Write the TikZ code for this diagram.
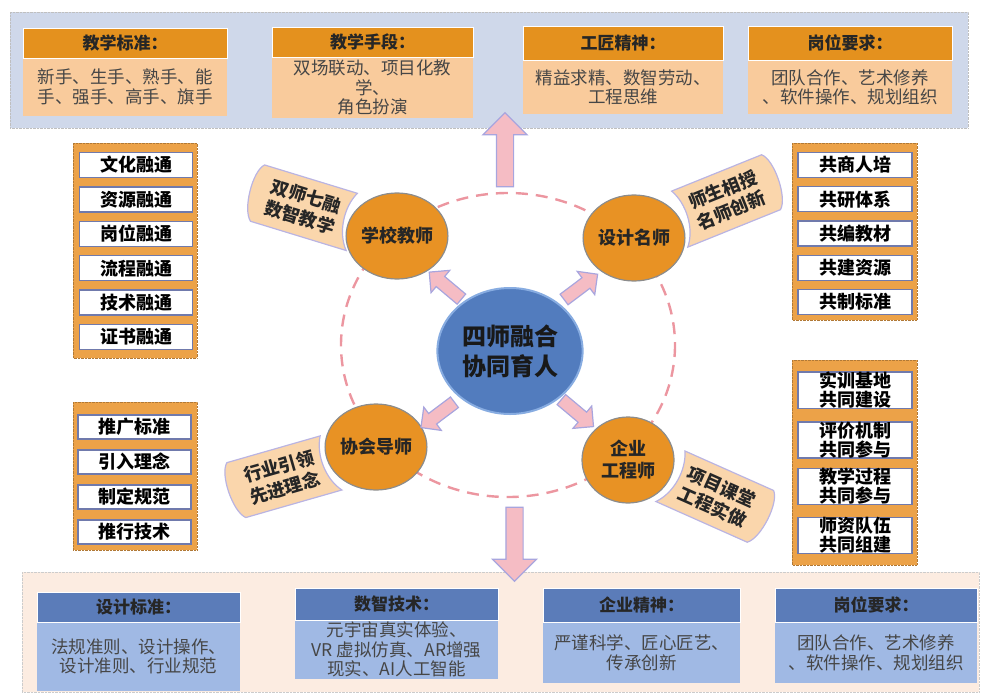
\documentclass[tikz,border=0pt]{standalone}
\usepackage{fontspec}
\setmainfont{Noto Sans CJK SC}
\usepackage{tikz}
\usetikzlibrary{shapes,arrows,positioning,calc}
\usepackage{xcolor}
\definecolor{bandblue}{RGB}{207,216,234}
\definecolor{bandpeach}{RGB}{252,236,225}
\definecolor{hdrorange}{RGB}{228,145,30}
\definecolor{bodyorange}{RGB}{249,203,156}
\definecolor{hdrblue}{RGB}{91,124,185}
\definecolor{bodyblue}{RGB}{160,185,228}
\definecolor{hubblue}{RGB}{82,124,190}
\definecolor{hubrim}{RGB}{135,172,225}
\definecolor{satorange}{RGB}{232,146,36}
\definecolor{panelorange}{RGB}{236,162,72}
\definecolor{boxrim}{RGB}{112,122,172}
\definecolor{arrowpink}{RGB}{245,188,196}
\definecolor{arrowlav}{RGB}{168,165,222}
\definecolor{dashpink}{RGB}{236,150,160}
\definecolor{tabfill}{RGB}{250,214,172}
\definecolor{tabrim}{RGB}{186,180,226}
\definecolor{txtgrey}{RGB}{70,70,70}

% curved label tab next to a teacher circle
\newcommand{\banner}[5]{%
  \begin{scope}[shift={#2}, rotate=#3, xscale=#4]
    \draw[tab] (54,29) -- (-46,29) .. controls (-57,20) and (-59,-20) .. (-49,-29)
      -- (48,-29) .. controls (39,-12) and (41,14) .. (54,29) -- cycle;
  \end{scope}
  \node[tabtext, rotate=#3] (#1) at #2 {#5};
}

\begin{document}
\begin{tikzpicture}[x=1pt, y=-1pt,
  tophead/.style={draw=white, line width=0.8pt, fill=hdrorange, inner sep=1pt,
    font=\bfseries\fontsize{17}{20}\selectfont, text=black!85},
  topbody/.style={fill=bodyorange, inner sep=1pt, align=center,
    font=\fontsize{17.5}{19.5}\selectfont, text=txtgrey},
  bothead/.style={draw=white, line width=0.8pt, fill=hdrblue, inner sep=1pt,
    font=\bfseries\fontsize{17}{20}\selectfont, text=black!85},
  botbody/.style={fill=bodyblue, inner sep=1pt, align=center,
    font=\fontsize{17.5}{19.5}\selectfont, text=txtgrey},
  panel/.style={fill=panelorange, draw=panelorange!75!black, densely dotted},
  item/.style={draw=boxrim, line width=1.4pt, fill=white, inner sep=0pt, align=center,
    minimum width=113pt, font=\bfseries\fontsize{18}{19}\selectfont},
  hub/.style={ellipse, fill=hubblue, draw=hubrim, line width=2pt, minimum width=126pt,
    minimum height=126pt, align=center, font=\bfseries\fontsize{24}{30}\selectfont, text=black!90},
  sat/.style={ellipse, fill=satorange, draw=black!45, line width=1.2pt, minimum width=92pt,
    minimum height=86pt, align=center, inner sep=0pt, font=\bfseries\fontsize{18}{22}\selectfont, text=black!85},
  fatarrow/.style={single arrow, draw=arrowlav, fill=arrowpink, line width=1.2pt,
    inner xsep=0pt, inner ysep=6pt, single arrow head extend=8pt, minimum width=28pt, minimum height=42pt},
  bigarrow/.style={fatarrow, inner ysep=8pt, single arrow head extend=13.5pt,
    minimum width=43pt, minimum height=74pt},
  tab/.style={fill=tabfill, draw=tabrim, line width=1.2pt},
  tabtext/.style={align=center, inner sep=0pt, font=\bfseries\fontsize{18}{22}\selectfont, text=black!85}]

\useasboundingbox (0,0) rectangle (981,693);

% Bands
\draw[fill=bandblue, draw=black!25, densely dotted] (10,12) rectangle (968,128);
\draw[fill=bandpeach, draw=black!20, densely dotted] (22,572) rectangle (979,692);

% Top boxes
\foreach \cx/\w/\cy/\hh/\bh/\head/\body [count=\i] in {
    125/204/43/30/57/教学标准：/{新手、生手、熟手、能\\手、强手、高手、旗手},
    372.5/201/42/30/60/教学手段：/{双场联动、项目化教\\学、\\角色扮演},
    623/200/43/34/53/工匠精神：/{精益求精、数智劳动、\\工程思维},
    850/204/43/34/53/岗位要求：/{团队合作、艺术修养\\、软件操作、规划组织}} {
  \node[tophead, minimum width=\w pt, minimum height=\hh pt] (th\i) at (\cx,\cy) {\head};
  \node[topbody, minimum width=\w pt, minimum height=\bh pt, below=0pt of th\i] (tb\i) {\body};
}

% Bottom boxes
\foreach \cx/\w/\cy/\hh/\bh/\head/\body [count=\i] in {
    138.5/203/607/30/68/设计标准：/{法规准则、设计操作、\\设计准则、行业规范},
    396.5/203/604/32/58/数智技术：/{元宇宙真实体验、\\VR 虚拟仿真、AR增强\\现实、AI人工智能},
    641.5/197/605/34/60/企业精神：/{严谨科学、匠心匠艺、\\传承创新},
    876/202/605/34/60/岗位要求：/{团队合作、艺术修养\\、软件操作、规划组织}} {
  \node[bothead, minimum width=\w pt, minimum height=\hh pt] (bh\i) at (\cx,\cy) {\head};
  \node[botbody, minimum width=\w pt, minimum height=\bh pt, below=0pt of bh\i] (bb\i) {\body};
}

% Side columns
\draw[panel] (73,143) rectangle (197,358);
\foreach \t [count=\i] in {文化融通,资源融通,岗位融通,流程融通,技术融通,证书融通}
  \node[item, minimum height=25pt] (l\i) at (136,{165+34.4*(\i-1)}) {\t};

\draw[panel] (73,402) rectangle (197,550);
\foreach \t [count=\i] in {推广标准,引入理念,制定规范,推行技术}
  \node[item, minimum height=24pt] (m\i) at (134.5,{427+35*(\i-1)}) {\t};

\draw[panel] (792,143) rectangle (917,320);
\foreach \t [count=\i] in {共商人培,共研体系,共编教材,共建资源,共制标准}
  \node[item, minimum width=114pt, minimum height=25pt] (r\i) at (855,{165+34.25*(\i-1)}) {\t};

\draw[panel] (792,360) rectangle (917,565);
\foreach \t/\y [count=\i] in {{实训基地\\共同建设}/390, {评价机制\\共同参与}/440,
    {教学过程\\共同参与}/486.5, {师资队伍\\共同组建}/535.5}
  \node[item, minimum width=114pt, minimum height=36pt] (s\i) at (855,\y) {\t};

% Dashed ring
\draw[dashpink, line width=2.4pt, dash pattern=on 12pt off 8pt] (508,345) ellipse (167 and 152);

% Up and down arrows
\node[bigarrow, rotate=90] (up) at (505,154) {};
\node[bigarrow, rotate=-90] (down) at (514.5,540) {};

% Centre and teachers
\node[hub] (hub) at (510,351) {四师融合\\协同育人};
\node[sat] (school) at (397,236) {学校教师};
\node[sat] (design) at (634,238) {设计名师};
\node[sat] (assoc) at (376,447) {协会导师};
\node[sat] (firm) at (628,460) {企业\\工程师};

\node[fatarrow, rotate=140] (a1) at ($(hub)!0.55!(school)$) {};
\node[fatarrow, rotate=37] (a2) at ($(hub)!0.55!(design)$) {};
\node[fatarrow, rotate=217] (a3) at ($(hub)!0.52!(assoc)+(0,12)$) {};
\node[fatarrow, rotate=-40] (a4) at ($(hub)!0.55!(firm)$) {};

% Tabs
\banner{t1}{(303,207)}{-17}{1}{双师七融\\数智教学}
\banner{t2}{(727,200)}{22}{-1}{师生相授\\名师创新}
\banner{t3}{(282,477)}{16}{1}{行业引领\\先进理念}
\banner{t4}{(717,497)}{-24}{-1}{项目课堂\\工程实做}
\end{tikzpicture}
\end{document}
